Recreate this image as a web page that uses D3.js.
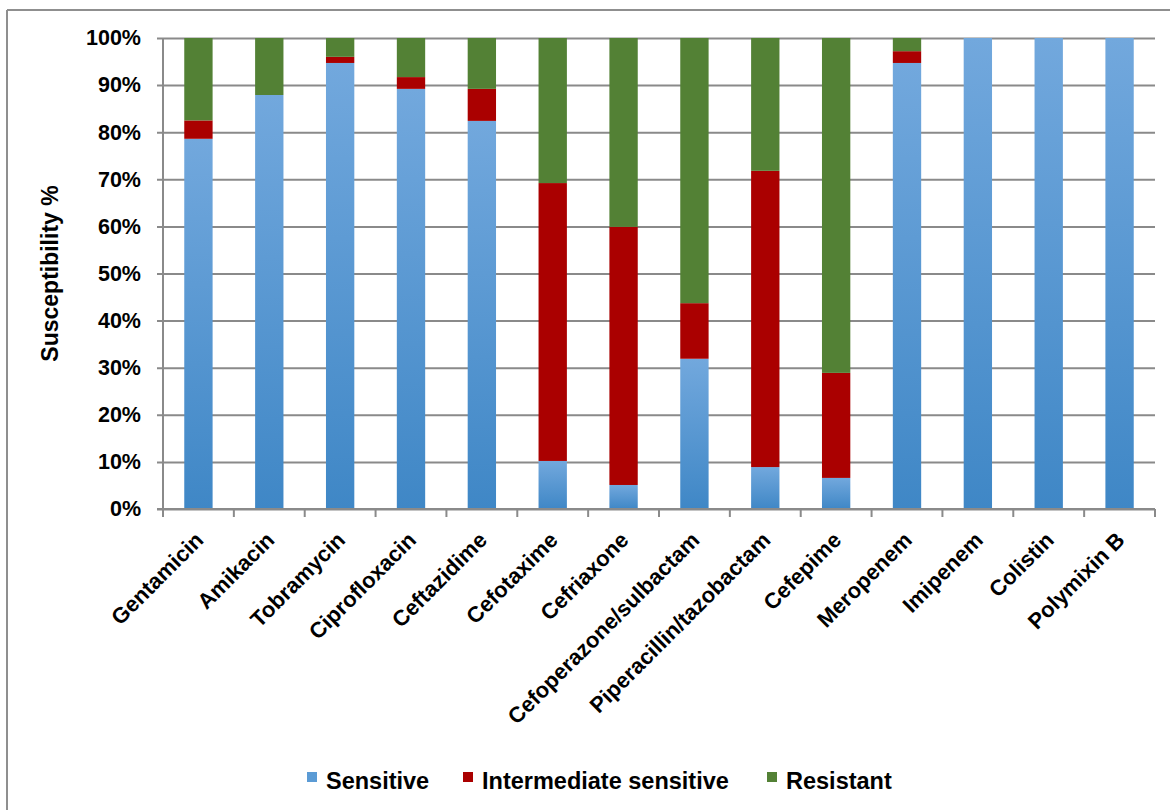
<!DOCTYPE html>
<html>
<head>
<meta charset="utf-8">
<script src="https://cdn.jsdelivr.net/npm/d3@7"></script>
<style>
  html, body { margin: 0; padding: 0; background: #fff; }
  svg { display: block; font-family: "Liberation Sans", Arial, sans-serif; font-weight: bold; }
</style>
</head>
<body>
<svg id="chart" width="1170" height="810"></svg>
<script>
// Antibiotic susceptibility (share of isolates, %)
const categories = ["Gentamicin", "Amikacin", "Tobramycin", "Ciprofloxacin", "Ceftazidime",
  "Cefotaxime", "Cefriaxone", "Cefoperazone/sulbactam", "Piperacillin/tazobactam",
  "Cefepime", "Meropenem", "Imipenem", "Colistin", "Polymixin B"];
const sensitive    = [78.6, 87.9, 94.7, 89.2, 82.4, 10.2,  5.1, 31.9,  8.9,  6.6, 94.7, 100, 100, 100];
const intermediate = [ 3.9,  0.0,  1.3,  2.5,  6.8, 59.0, 54.8, 11.8, 62.9, 22.3,  2.5,   0,   0,   0];
const resistant    = [17.5, 12.1,  4.0,  8.3, 10.8, 30.8, 40.1, 56.3, 28.2, 71.1,  2.8,   0,   0,   0];
const seriesNames  = ["Sensitive", "Intermediate sensitive", "Resistant"];
const yTicks       = [0, 10, 20, 30, 40, 50, 60, 70, 80, 90, 100];

const svg = d3.select("#chart");
const plot = { left: 163, right: 1155, top: 38, bottom: 509 };

// Chart-area frame (top and left edges)
svg.append("line").attr("x1", 7).attr("y1", 10).attr("x2", 1170).attr("y2", 10)
  .attr("stroke", "#8f8f8f").attr("stroke-width", 2);
svg.append("line").attr("x1", 7).attr("y1", 10).attr("x2", 7).attr("y2", 810)
  .attr("stroke", "#8f8f8f").attr("stroke-width", 2);

const x = d3.scaleBand().domain(categories).range([plot.left, plot.right])
  .paddingInner(0.6).paddingOuter(0.3);
const y = d3.scaleLinear().domain([0, 100]).range([plot.bottom, plot.top]);

// Gradient fill for the sensitive segment
const defs = svg.append("defs");
const grad = defs.append("linearGradient").attr("id", "blueGrad")
  .attr("x1", 0).attr("y1", 0).attr("x2", 0).attr("y2", 1);
grad.append("stop").attr("offset", "0%").attr("stop-color", "#72a8dd");
grad.append("stop").attr("offset", "100%").attr("stop-color", "#3f87c6");

const colors = ["url(#blueGrad)", "#aa0000", "#538135"];
const legendColors = ["#5b9bd5", "#aa0000", "#538135"];

// Horizontal gridlines with left tick marks
const yAxis = d3.axisLeft(y).tickValues(yTicks)
  .tickSize(-(plot.right - plot.left)).tickFormat(d => d + "%").tickPadding(22);
const gy = svg.append("g").attr("transform", `translate(${plot.left},0)`).call(yAxis);
gy.select(".domain").remove();
gy.selectAll(".tick line").attr("stroke", "#8a8a8a").attr("stroke-width", 2)
  .attr("x1", -6);
gy.selectAll(".tick text").attr("font-size", 21.5).attr("fill", "#000")
  .attr("font-family", "Liberation Sans, Arial, sans-serif").attr("font-weight", "bold");

// Stacked bars
const rows = categories.map((c, i) => ({ cat: c, s: sensitive[i], m: intermediate[i], r: resistant[i] }));
const stack = d3.stack().keys(["s", "m", "r"])(rows);
svg.append("g").selectAll("g").data(stack).join("g")
  .attr("fill", (d, i) => colors[i])
  .selectAll("rect").data(d => d.filter(p => p[1] - p[0] > 0)).join("rect")
  .attr("x", d => x(d.data.cat))
  .attr("width", x.bandwidth())
  .attr("y", d => y(d[1]))
  .attr("height", d => y(d[0]) - y(d[1]));

// Vertical axis line
svg.append("line").attr("x1", plot.left).attr("x2", plot.left)
  .attr("y1", y(100)).attr("y2", y(0)).attr("stroke", "#8a8a8a").attr("stroke-width", 2);

// Category axis line and boundary ticks
svg.append("line").attr("x1", plot.left - 6).attr("x2", plot.right)
  .attr("y1", y(0)).attr("y2", y(0)).attr("stroke", "#8a8a8a").attr("stroke-width", 2);
const step = x.step();
const boundaries = categories.map(c => x(c) - step * x.paddingInner() / 2);
boundaries.push(plot.right);
svg.append("g").selectAll("line").data(boundaries).join("line")
  .attr("x1", d => d).attr("x2", d => d)
  .attr("y1", y(0)).attr("y2", y(0) + 8)
  .attr("stroke", "#8a8a8a").attr("stroke-width", 2);

// Rotated category labels
svg.append("g").selectAll("text").data(categories).join("text")
  .attr("transform", d => `translate(${x(d) + x.bandwidth() / 2 + 1},${y(0) + 27}) rotate(-45)`)
  .attr("text-anchor", "end").attr("dy", "0.35em")
  .attr("font-size", 22).attr("fill", "#000")
  .text(d => d);

// Axis title
svg.append("text")
  .attr("transform", `translate(58,${(plot.top + plot.bottom) / 2}) rotate(-90)`)
  .attr("text-anchor", "middle").attr("font-size", 23).attr("fill", "#000")
  .text("Susceptibility %");

// Legend
const legendX = [307, 463, 767];
const lg = svg.append("g").selectAll("g").data(seriesNames).join("g")
  .attr("transform", (d, i) => `translate(${legendX[i]},772)`);
lg.append("rect").attr("width", 10).attr("height", 10)
  .attr("fill", (d, i) => legendColors[i]);
lg.append("text").attr("x", 19).attr("y", 17)
  .attr("font-size", 23.5).attr("fill", "#000").text(d => d);
</script>
</body>
</html>
